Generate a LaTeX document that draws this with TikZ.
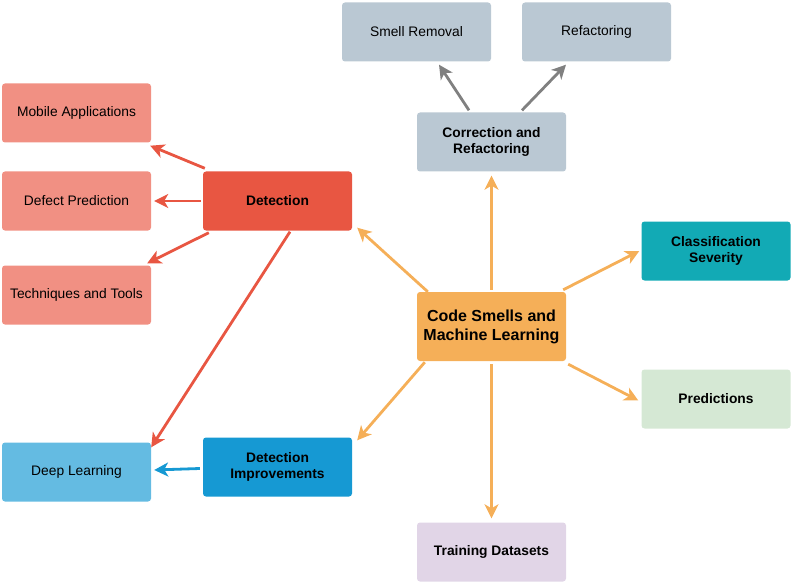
\documentclass[tikz,border=0pt]{standalone}
\usepackage{fontspec}
\setmainfont{Liberation Sans}
\usepackage{tikz}
\usetikzlibrary{arrows.meta,positioning}

\definecolor{greybox}{HTML}{BAC8D3}
\definecolor{greyline}{HTML}{808080}
\definecolor{redbox}{HTML}{E85642}
\definecolor{lightred}{HTML}{F19083}
\definecolor{orangebox}{HTML}{F5AF58}
\definecolor{tealbox}{HTML}{12AAB5}
\definecolor{greenbox}{HTML}{D5E8D4}
\definecolor{lilacbox}{HTML}{E1D5E7}
\definecolor{bluebox}{HTML}{1699D3}
\definecolor{lightblue}{HTML}{64BBE2}

\begin{document}
\begin{tikzpicture}[x=1pt,y=-1pt]
	\useasboundingbox (0,0) rectangle (793,583);
	\begin{scope}[every node/.style={rectangle,rounded corners=3pt,minimum height=59pt,minimum width=149pt,align=center,inner sep=0pt,font=\fontsize{13.8}{16}\selectfont}]
		\node[fill=orangebox,minimum height=69pt,font=\fontsize{16}{19}\selectfont\bfseries] (csml) at (491.5,326.5) {Code Smells and\\Machine Learning};
		\node[fill=greybox,font=\fontsize{13.8}{16}\selectfont\bfseries] (corr) at (491.5,142) {Correction and\\Refactoring};
		\node[fill=greybox] (smell) at (416.5,32) {Smell Removal};
		\node[fill=greybox] (refac) at (596.5,32) {Refactoring};
		\node[fill=redbox,font=\fontsize{13.8}{16}\selectfont\bfseries] (det) at (277.5,201) {Detection};
		\node[fill=lightred] (mob) at (76.5,113) {Mobile Applications};
		\node[fill=lightred] (defect) at (76.5,201) {Defect Prediction};
		\node[fill=lightred] (tech) at (76.5,295) {Techniques and Tools};
		\node[fill=tealbox,font=\fontsize{13.8}{16}\selectfont\bfseries] (class) at (716,251) {Classification\\Severity};
		\node[fill=greenbox,font=\fontsize{13.8}{16}\selectfont\bfseries] (pred) at (716,399) {Predictions};
		\node[fill=bluebox,font=\fontsize{13.8}{16}\selectfont\bfseries] (di) at (277.5,467) {Detection\\Improvements};
		\node[fill=lightblue] (deep) at (76.5,472) {Deep Learning};
		\node[fill=lilacbox,font=\fontsize{13.8}{16}\selectfont\bfseries] (train) at (491.5,552) {Training Datasets};
	\end{scope}

	\begin{scope}[line width=2.8pt,-{Stealth[length=14pt,width=14pt,inset=4pt]}]
	% from the centre
	\draw[orangebox] ([xshift=11pt]csml.north west) -- ([xshift=5pt,yshift=3pt]det.south east);
	\draw[orangebox] ([yshift=2pt]csml.north) -- ([yshift=-4pt]corr.south);
	\draw[orangebox] ([xshift=-3pt,yshift=2pt]csml.north east) -- ([xshift=-2pt]class.west);
	\draw[orangebox] ([xshift=2pt,yshift=-3pt]csml.south east) -- ([xshift=-3pt,yshift=-1.5pt]pred.west);
	\draw[orangebox] ([yshift=-3pt]csml.south) -- ([yshift=4pt]train.north);
	\draw[orangebox] ([xshift=8pt,yshift=-1pt]csml.south west) -- ([xshift=5pt,yshift=-3pt]di.north east);

	\draw[greyline] ([xshift=-22.5pt,yshift=2pt]corr.north) -- ([xshift=22.5pt,yshift=-3pt]smell.south);
	\draw[greyline] ([xshift=30.5pt,yshift=2pt]corr.north) -- ([xshift=-30.5pt,yshift=-3pt]refac.south);

	\draw[redbox] ([xshift=2pt,yshift=3pt]det.north west) -- ([xshift=-1pt,yshift=-3pt]mob.south east);
	\draw[redbox] ([xshift=-2pt]det.west) -- ([xshift=3pt]defect.east);
	\draw[redbox] ([xshift=6pt,yshift=-2pt]det.south west) -- ([xshift=-4pt,yshift=2pt]tech.north east);
	\draw[redbox] ([xshift=12.5pt,yshift=-1pt]det.south) -- ([yshift=-5pt]deep.north east);

	\draw[bluebox] ([xshift=-3pt,yshift=-1.5pt]di.west) -- ([xshift=3pt,yshift=2pt]deep.east);
	\end{scope}
\end{tikzpicture}
\end{document}
